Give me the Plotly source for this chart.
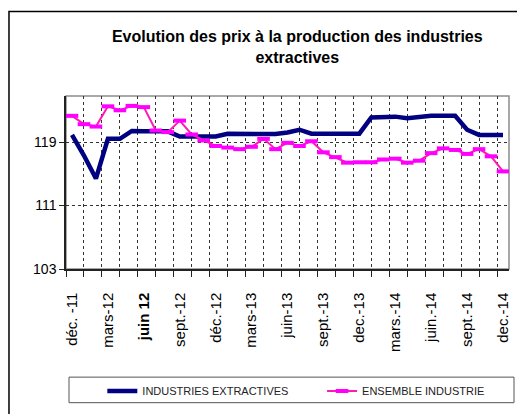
import plotly.graph_objects as go

# monthly series, déc. 2011 -> déc. 2014
months = ['déc.-11', 'janv.-12', 'févr.-12', 'mars-12', 'avr.-12', 'mai-12', 'juin-12', 'juil.-12',
          'août-12', 'sept.-12', 'oct.-12', 'nov.-12', 'déc.-12', 'janv.-13', 'févr.-13', 'mars-13',
          'avr.-13', 'mai-13', 'juin-13', 'juil.-13', 'août-13', 'sept.-13', 'oct.-13', 'nov.-13',
          'déc.-13', 'janv.-14', 'févr.-14', 'mars-14', 'avr.-14', 'mai-14', 'juin-14', 'juil.-14',
          'août-14', 'sept.-14', 'oct.-14', 'nov.-14', 'déc.-14']

industries_extractives = [119.9, 117.3, 114.4, 119.4, 119.4, 120.4, 120.35, 120.3, 120.35, 119.7,
                          119.7, 119.7, 119.7, 120.05, 120.05, 120.0, 119.95, 120.0, 120.2, 120.55,
                          120.05, 120.05, 120.05, 120.05, 120.05, 122.1, 122.1, 122.2, 122.0, 122.2,
                          122.3, 122.3, 122.3, 120.55, 119.9, 119.9, 119.9]

ensemble_industrie = [122.3, 121.25, 120.95, 123.5, 123.0, 123.55, 123.4, 120.45, 120.25, 121.7,
                      119.95, 119.2, 118.5, 118.3, 118.1, 118.4, 119.4, 118.1, 118.9, 118.5,
                      119.1, 117.7, 117.1, 116.4, 116.45, 116.45, 116.8, 116.9, 116.4, 116.65,
                      117.6, 118.2, 118.0, 117.5, 118.1, 117.2, 115.3]

tick_labels = ['déc. -11', 'mars-12', '<b>juin 12</b>', 'sept.-12', 'déc.-12', 'mars-13', 'juin-13',
               'sept.-13', 'dec.-13', 'mars.-14', 'juin.-14', 'sept.-14', 'dec.-14']
y_ticks = [103, 111, 119]

font = 'Liberation Sans, Arial'
x = list(range(len(months)))

fig = go.Figure()
fig.add_trace(go.Scatter(x=x, y=industries_extractives, mode='lines', name='INDUSTRIES EXTRACTIVES',
                         line=dict(color='#000080', width=4.5), text=months, legend='legend'))
fig.add_trace(go.Scatter(x=x, y=ensemble_industrie, mode='lines+markers', name='ENSEMBLE INDUSTRIE',
                         line=dict(color='#FF1AB3', width=2), text=months, legend='legend2',
                         marker=dict(symbol='line-ew', size=9, line=dict(color='#FF00FF', width=4))))

leg = dict(orientation='h', xanchor='left', y=-0.7045, yanchor='middle',
           bgcolor='rgba(0,0,0,0)', borderwidth=0, font=dict(family=font, size=11, color='#222'))

fig.update_layout(
    width=517, height=414,
    margin=dict(l=66, r=8, t=96, b=142),
    paper_bgcolor='white', plot_bgcolor='white',
    showlegend=True,
    title=dict(text='<b>Evolution des prix à la production des industries<br>extractives</b>',
               x=0.575, xref='container', xanchor='center',
               y=0.898, yref='container', yanchor='top',
               font=dict(family=font, size=16, color='black')),
    legend=dict(leg, x=0.082),
    legend2=dict(leg, x=0.578),
    shapes=[
        # plot frame
        dict(type='rect', xref='paper', yref='paper', x0=0, x1=1, y0=0, y1=1,
             line=dict(color='#8c8c8c', width=1.5), layer='below'),
        # legend box
        dict(type='rect', xref='paper', yref='paper', x0=0.0068, x1=1.0113, y0=-0.7727, y1=-0.625,
             line=dict(color='#555', width=1)),
        # outer chart border
        dict(type='rect', xref='paper', yref='paper', x0=-0.1287, x1=1.2, y0=-1.0, y1=1.489,
             line=dict(color='black', width=1.5)),
    ],
)

fig.update_xaxes(
    range=[-0.5, 36.5], tickmode='array', tickvals=x[::3], ticktext=tick_labels,
    tickangle=-90, ticks='', ticklabelstandoff=16, showgrid=False, zeroline=False,
    showline=True, linecolor='#222', linewidth=1.5, automargin=False,
    tickfont=dict(family=font, size=15, color='black'),
    minor=dict(tickmode='linear', tick0=-0.5, dtick=1.5, ticks='outside', ticklen=6,
               tickcolor='#222', showgrid=True, gridcolor='#333', griddash='dot', gridwidth=1),
)
fig.update_yaxes(
    range=[103, 124.8], tickmode='array', tickvals=y_ticks, ticks='outside', ticklen=5,
    tickcolor='#222', showgrid=True, gridcolor='#333', griddash='dot', gridwidth=1,
    zeroline=False, showline=True, linecolor='#222', linewidth=1.5, automargin=False,
    tickfont=dict(family=font, size=14, color='black'),
)

# drop the browser's default body margin so the figure sits at the page corner
fig.write_html('out.html', config={'displayModeBar': False},
               post_script="document.body.style.margin = '0';")
